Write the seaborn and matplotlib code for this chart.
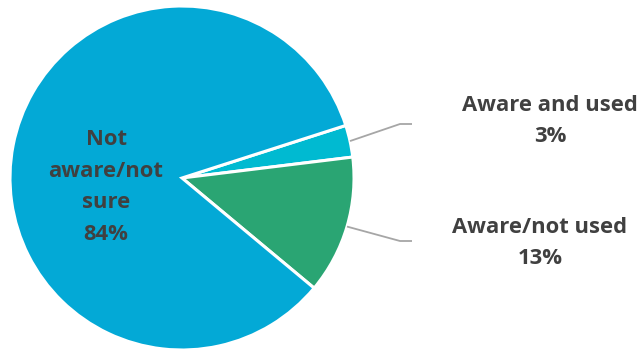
import numpy as np
import matplotlib
matplotlib.use("Agg")
import matplotlib.pyplot as plt
import seaborn as sns

categories = ["Aware and used", "Aware/not used", "Not\naware/not\nsure"]
shares = [3, 13, 84]
colors = ["#00BAD1", "#2AA573", "#03A9D6"]

sns.set_theme(style="white")
plt.rcParams["font.family"] = ["Open Sans", "DejaVu Sans"]
text_color = "#404040"

W, H = 642, 351
fig = plt.figure(figsize=(W / 100, H / 100), dpi=100)
ax = fig.add_axes([0, 0, 1, 1])

cx, cy, r = 182, H - 178, 172
wedges, _ = ax.pie(
    shares, colors=colors, startangle=17.8, counterclock=False,
    center=(cx, cy), radius=r, explode=[0.02, 0.02, 0.0],
    wedgeprops=dict(edgecolor="white", linewidth=2.2), frame=True,
)
ax.set_xlim(0, W)
ax.set_ylim(0, H)
ax.set_aspect("equal")
ax.axis("off")

fs = 15.8
# outside labels with elbow leader lines
outside = [(0, 550, 121, H - 124), (1, 540, 243, H - 241)]
for idx, tx, ty_pix, ly in outside:
    w = wedges[idx]
    mid = np.deg2rad((w.theta1 + w.theta2) / 2)
    wx, wy = w.center
    sx = wx + w.r * np.cos(mid)
    sy = wy + w.r * np.sin(mid)
    ax.plot([sx, 400, 412], [sy, ly, ly], color="#A6A6A6", lw=1.3,
            solid_capstyle="butt")
    ax.text(tx, H - ty_pix, f"{categories[idx]}\n{shares[idx]}%",
            ha="center", va="center", fontsize=fs, fontweight="bold",
            color=text_color, linespacing=1.62)

# label inside the largest slice
ax.text(106, H - 187, f"{categories[2]}\n{shares[2]}%", ha="center",
        va="center", fontsize=fs, fontweight="bold", color=text_color,
        linespacing=1.66)

fig.savefig("out.png", dpi=100, facecolor="white")
